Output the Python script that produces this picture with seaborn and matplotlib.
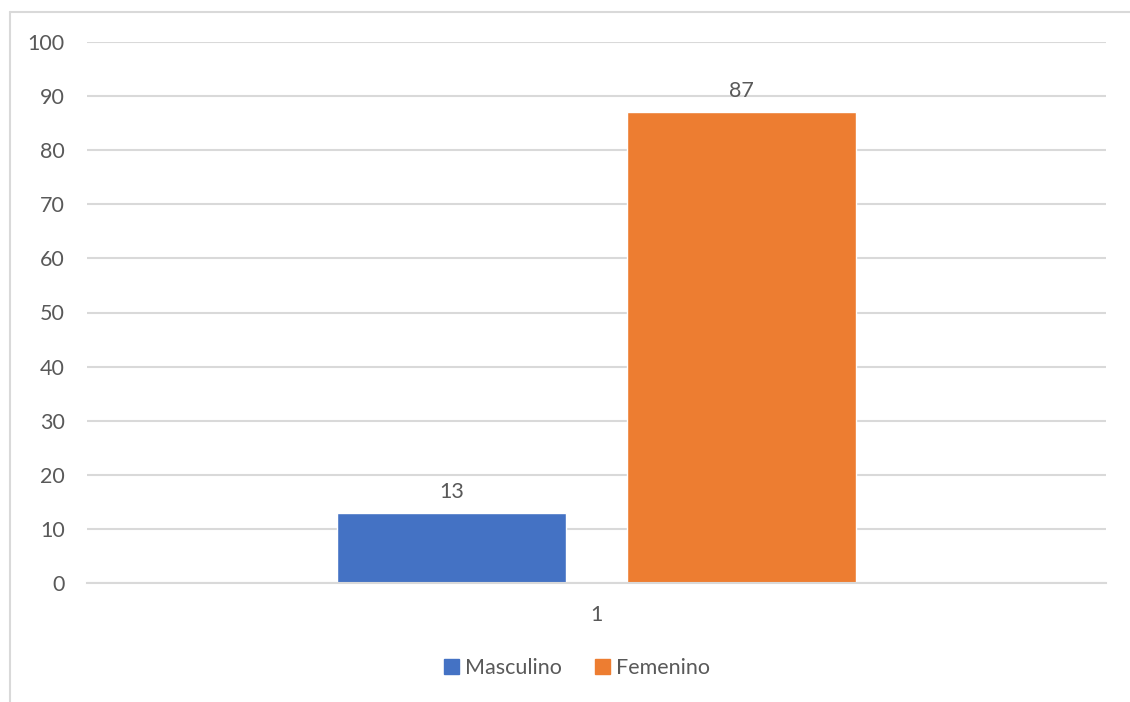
import pandas as pd
import seaborn as sns
import matplotlib.pyplot as plt
from matplotlib.lines import Line2D

# Dados do grafico
categorias = ["1"]
series = ["Masculino", "Femenino"]
valores = [13, 87]
cores = ["#4472C4", "#ED7D31"]

df = pd.DataFrame({
    "categoria": categorias * len(series),
    "sexo": series,
    "valor": valores,
})

sns.set_style("white")
plt.rcParams["font.family"] = ["Lato", "DejaVu Sans"]
cinza_texto = "#595959"
cinza_linha = "#D9D9D9"
tam_fonte = 15.5

fig = plt.figure(figsize=(11.3, 7.02), dpi=100)
ax = fig.add_axes([87 / 1130, 119 / 702, 1019 / 1130, 541 / 702])

sns.barplot(data=df, x="categoria", y="valor", hue="sexo", palette=cores,
            width=0.569, gap=0.21, ax=ax, legend=False, saturation=1)

# Rotulos de dados
for c in ax.containers:
    ax.bar_label(c, padding=8, fontsize=tam_fonte, color=cinza_texto)

ax.set_ylim(0, 100)
ax.set_xlim(-0.5, 0.5)
ax.set_yticks(range(0, 101, 10))
ax.yaxis.grid(True, color=cinza_linha, linewidth=1.5)
ax.set_axisbelow(True)
for lado in ["left", "right", "top"]:
    ax.spines[lado].set_visible(False)
ax.spines["bottom"].set_color(cinza_linha)
ax.spines["bottom"].set_linewidth(1.5)
ax.tick_params(axis="both", length=0, labelsize=tam_fonte, labelcolor=cinza_texto)
ax.tick_params(axis="y", pad=16)
ax.tick_params(axis="x", pad=16)
ax.set_xlabel("")
ax.set_ylabel("")

# Legenda embaixo
handles = [plt.Rectangle((0, 0), 1, 1, color=c) for c in cores]
fig.legend(handles, series, loc="center", bbox_to_anchor=(577 / 1130, 1 - 668 / 702),
           ncol=2, frameon=False, fontsize=tam_fonte, labelcolor=cinza_texto,
           handlelength=0.7, handleheight=0.7, handletextpad=0.3, columnspacing=1.5)

# Borda do grafico (so esquerda e topo visiveis)
fig.add_artist(Line2D([10 / 1130, 10 / 1130], [0, 1 - 12 / 702], color=cinza_linha, lw=1.5))
fig.add_artist(Line2D([10 / 1130, 1], [1 - 12 / 702, 1 - 12 / 702], color=cinza_linha, lw=1.5))

fig.savefig("out.png", dpi=100)
